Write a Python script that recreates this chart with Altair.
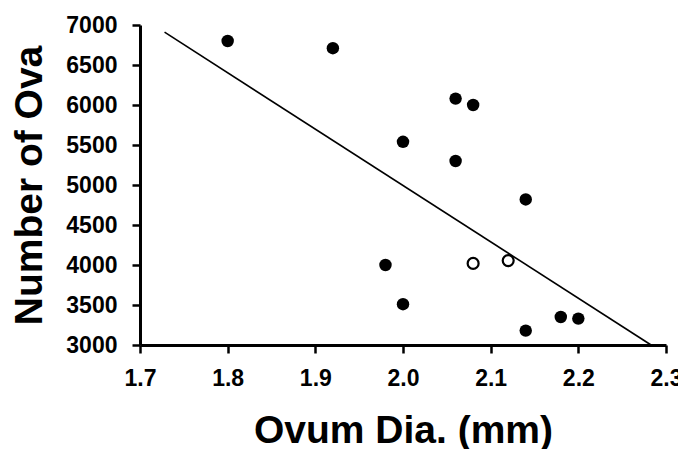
import altair as alt
import pandas as pd

# filled points
dia_filled = [1.80, 1.92, 2.00, 2.06, 2.06, 2.08, 2.14, 1.98, 2.00, 2.14, 2.18, 2.20]
ova_filled = [6800, 6710, 5540, 6080, 5300, 6000, 4820, 4000, 3510, 3180, 3350, 3330]
# open points
dia_open = [2.08, 2.12]
ova_open = [4020, 4055]
# regression line end points
line_dia = [1.728, 2.283]
line_ova = [6910, 3000]

x_ticks = [1.7, 1.8, 1.9, 2.0, 2.1, 2.2, 2.3]
y_ticks = [3000, 3500, 4000, 4500, 5000, 5500, 6000, 6500, 7000]

df_f = pd.DataFrame({"dia": dia_filled, "ova": ova_filled})
df_o = pd.DataFrame({"dia": dia_open, "ova": ova_open})
df_l = pd.DataFrame({"dia": line_dia, "ova": line_ova})

FONT = "Liberation Sans"

xscale = alt.Scale(domain=[1.7, 2.3], nice=False, zero=False)
yscale = alt.Scale(domain=[3000, 7000], nice=False, zero=False)

xaxis = alt.Axis(
    title="Ovum Dia. (mm)", values=x_ticks, format=".1f", grid=False,
    domainColor="black", domainWidth=3, tickColor="black", tickWidth=2.5, tickSize=8,
    labelFont=FONT, labelFontSize=23, labelFontWeight="bold", labelColor="black",
    labelPadding=14, labelFlush=False, labelOverlap=False,
    titleFont=FONT, titleFontSize=39, titleFontWeight="bold", titleColor="black",
    titlePadding=21,
)
yaxis = alt.Axis(
    title="Number of Ova", values=y_ticks, format="d", grid=False,
    domainColor="black", domainWidth=3, tickColor="black", tickWidth=2.5, tickSize=8,
    labelFont=FONT, labelFontSize=23, labelFontWeight="bold", labelColor="black",
    labelPadding=15, labelFlush=False, labelOverlap=False, labelBound=False,
    titleFont=FONT, titleFontSize=39, titleFontWeight="bold", titleColor="black",
    titlePadding=16,
)

X = alt.X("dia:Q", scale=xscale, axis=xaxis)
Y = alt.Y("ova:Q", scale=yscale, axis=yaxis)

line = alt.Chart(df_l).mark_line(color="black", strokeWidth=1.6).encode(x=X, y=Y)
filled = alt.Chart(df_f).mark_point(filled=True, color="black", size=155, opacity=1,
                                    shape="circle").encode(x=X, y=Y)
open_pts = alt.Chart(df_o).mark_point(filled=False, color="black", fill="white", size=120,
                                      strokeWidth=2.2, opacity=1, shape="circle").encode(x=X, y=Y)

chart = alt.layer(line, filled, open_pts).properties(
    width=526, height=320,
    autosize=alt.AutoSizeParams(type="none"),
    padding={"left": 132, "top": 17, "right": 12, "bottom": 104},
    background="white",
).configure_view(stroke=None)

chart.save("out.html", embed_options={"renderer": "svg", "actions": False})
